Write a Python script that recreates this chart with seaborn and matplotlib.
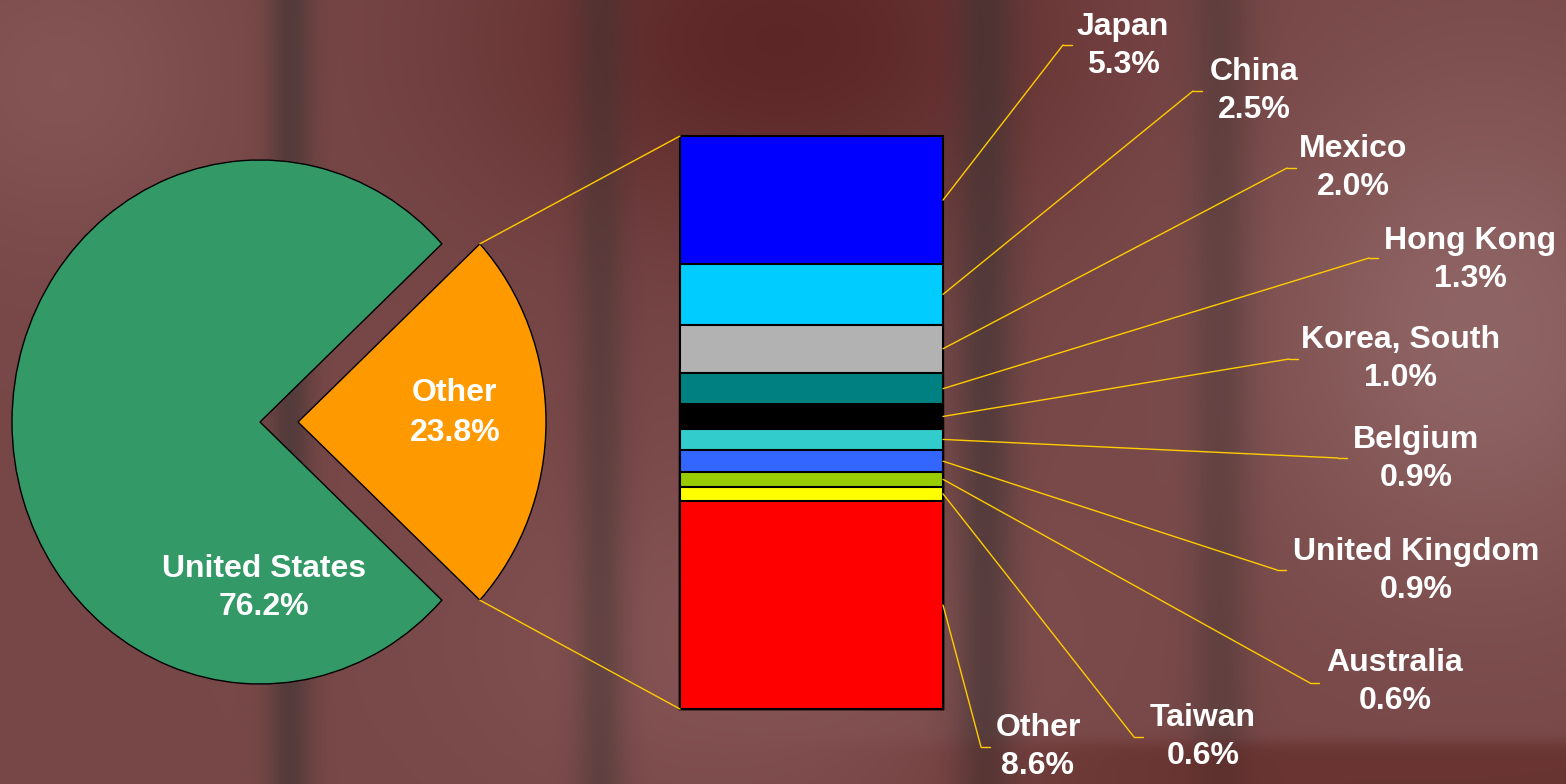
import numpy as np
import pandas as pd
import seaborn as sns
import matplotlib.pyplot as plt
from matplotlib.patches import ConnectionPatch
from matplotlib import font_manager

# main split
main_labels = ["Other", "United States"]
main_share = [23.8, 76.2]

# breakdown of "Other" (top of bar to bottom)
countries = ["Japan", "China", "Mexico", "Hong Kong", "Korea, South", "Belgium",
             "United Kingdom", "Australia", "Taiwan", "Other"]
shares = [5.3, 2.5, 2.0, 1.3, 1.0, 0.9, 0.9, 0.6, 0.6, 8.6]

pie_colors = ["#FF9900", "#339966"]
bar_colors = ["#0000FF", "#00CCFF", "#B2B2B2", "#008080", "#000000", "#33CCCC",
              "#3366FF", "#99CC00", "#FFFF00", "#FF0000"]
line_col = "#FFCC00"

# label layout (pixels from top-left): elbow of leader line, text block centre
elbow = [(1063, 45), (1193, 91), (1287, 168), (1369, 258), (1289, 359), (1338, 458),
         (1277, 570), (1310, 683), (1134, 737), (981, 747)]
label_pos = [(1123, 46), (1254, 91), (1353, 168), (1470, 260), (1401, 359), (1416, 459),
             (1416, 571), (1395, 682), (1203, 737), (1038, 747)]

sns.set_style("white")
names = {f.name for f in font_manager.fontManager.ttflist}
if "Liberation Sans Narrow" in names:
    lab_font, lab_size, lab_ls = "Liberation Sans Narrow", 27, 1.15
else:
    lab_font, lab_size, lab_ls = "Liberation Sans", 23, 1.34
plt.rcParams["font.family"] = ["Liberation Sans", "DejaVu Sans"]

W, H = 1566, 784
fig = plt.figure(figsize=(W / 100, H / 100), dpi=100)

# background (blurred dark red photo look)
bg = fig.add_axes([0, 0, 1, 1], zorder=0)
yy, xx = np.mgrid[0:H, 0:W]
img = np.ones((H, W, 3)) * np.array([0.47, 0.28, 0.28])


def mix(im, w, col):
    return im * (1 - w[..., None]) + np.array(col) * w[..., None]


def blob(cx, cy, sx, sy):
    return np.exp(-((xx - cx) / sx) ** 2 - ((yy - cy) / sy) ** 2)


img = mix(img, 0.8 * blob(780, 40, 300, 200), (0.34, 0.12, 0.12))
img = mix(img, 0.7 * blob(1480, 330, 220, 260), (0.60, 0.44, 0.44))
img = mix(img, 0.6 * blob(760, 640, 260, 160), (0.56, 0.36, 0.36))
img = mix(img, 0.6 * blob(60, 80, 150, 150), (0.55, 0.36, 0.36))
for cx, wd, a in [(290, 22, 0.6), (600, 25, 0.45), (985, 30, 0.6), (1220, 30, 0.4)]:
    img = mix(img, a * np.exp(-((xx - cx) / wd) ** 2), (0.24, 0.20, 0.20))
strip = 1 / (1 + np.exp(-(yy - 742) / 4)) * 1 / (1 + np.exp(-(xx - 1000) / 80))
img = mix(img, 0.55 * strip, (0.36, 0.14, 0.12))
bg.imshow(img, aspect="auto", extent=(0, W, H, 0))
bg.set_xlim(0, W)
bg.set_ylim(H, 0)
bg.axis("off")

# pie of pie: main pie
rx, ry = 248, 262
cx, cy = 260, 422
x_lo, x_hi, y_lo, y_hi = -1.2, 1.4, -1.2, 1.2
pa = fig.add_axes([(cx + x_lo * rx) / W, (H - cy + y_lo * ry) / H,
                   (x_hi - x_lo) * rx / W, (y_hi - y_lo) * ry / H], zorder=1)
half = main_share[0] * 3.6 / 2
expl = 38 / rx
pa.pie(main_share, colors=pie_colors, explode=[expl, 0], startangle=-half,
       wedgeprops=dict(edgecolor="black", linewidth=1))
pa.set_aspect("auto")
pa.set_xlim(x_lo, x_hi)
pa.set_ylim(y_lo, y_hi)
pa.axis("off")
pa.text(0.786, 0.034, f"{main_labels[0]}\n{main_share[0]:.1f}%", ha="center", va="center",
        color="white", fontsize=23, fontweight="bold", linespacing=1.42)
pa.text(0.016, -0.634, f"{main_labels[1]}\n{main_share[1]:.1f}%", ha="center", va="center",
        color="white", fontsize=23, fontweight="bold", linespacing=1.36)

# stacked bar of the breakdown
total = sum(shares)
cum_top = total - np.concatenate([[0], np.cumsum(shares)[:-1]])
mids = cum_top - np.array(shares) / 2
ba = fig.add_axes([680 / W, (H - 709) / H, 263 / W, 573 / H], zorder=1)
for top, col in zip(cum_top, bar_colors):
    sns.barplot(x=[0], y=[top], color=col, saturation=1, width=1,
                edgecolor="black", linewidth=1.5, ax=ba)
for p in ba.patches:
    p.set_clip_on(False)
ba.set_xlim(-0.5, 0.5)
ba.set_ylim(0, total)
ba.axis("off")

# overlay in pixel coords for labels
ov = fig.add_axes([0, 0, 1, 1], zorder=3)
ov.set_xlim(0, W)
ov.set_ylim(H, 0)
ov.axis("off")
ov.patch.set_visible(False)

# connectors pie -> bar
th = np.deg2rad(half)
for sgn, yb in [(1, total), (-1, 0)]:
    cp = ConnectionPatch(xyA=(expl + np.cos(th), sgn * np.sin(th)), coordsA=pa.transData,
                         xyB=(-0.5, yb), coordsB=ba.transData, color=line_col, lw=1)
    cp.set_zorder(5)
    fig.add_artist(cp)

# leader lines and labels
for name, val, m, (ex, ey), (lx, ly) in zip(countries, shares, mids, elbow, label_pos):
    cp = ConnectionPatch(xyA=(0.5, m), coordsA=ba.transData, xyB=(ex, ey),
                         coordsB=ov.transData, color=line_col, lw=1)
    cp.set_zorder(5)
    fig.add_artist(cp)
    ov.plot([ex, ex + 9], [ey, ey], color=line_col, lw=1)
    ov.text(lx, ly, f"{name}\n{val:.1f}%", ha="center", va="center", color="white",
            fontsize=lab_size, fontweight="bold", family=lab_font, linespacing=lab_ls)

fig.savefig("out.png", dpi=100)
